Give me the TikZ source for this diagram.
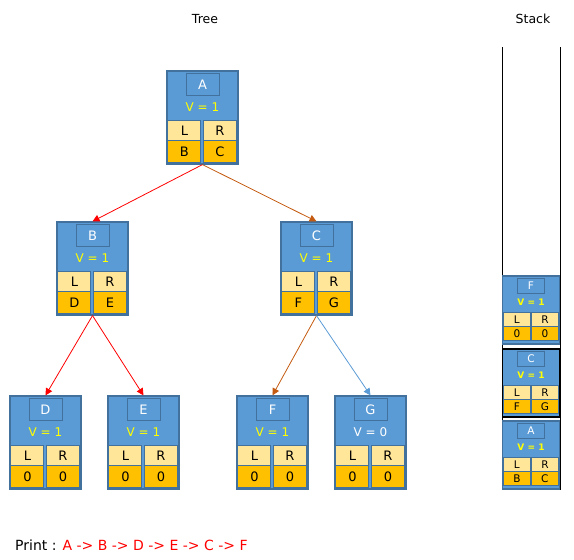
\documentclass[tikz,border=0pt]{standalone}
\usepackage{fontspec}
\setmainfont{DejaVu Sans}
\usetikzlibrary{arrows.meta}
\definecolor{boxblue}{HTML}{5B9BD5}
\definecolor{edgeblue}{HTML}{41719C}
\definecolor{cellpale}{HTML}{FFE699}
\definecolor{cellgold}{HTML}{FFC000}
\definecolor{vyellow}{HTML}{FFFF00}
\definecolor{rust}{HTML}{C55A11}

\begin{document}
\begin{tikzpicture}[x=1pt,y=-1pt,>={Triangle[length=7pt,width=7pt]},
  font=\fontsize{13}{15}\selectfont,
  blk/.style={draw=edgeblue,fill=boxblue,line width=1.2pt,inner sep=0pt,
    minimum width=71pt,minimum height=93pt},
  ttl/.style={draw=edgeblue,fill=boxblue,line width=1pt,text=white,inner sep=0pt,
    minimum width=33pt,minimum height=22pt},
  vtx/.style={inner sep=0pt,font=\fontsize{12}{14}\selectfont},
  cell/.style={draw=edgeblue,line width=1pt,inner sep=0pt,minimum width=33pt},
  palecell/.style={cell,fill=cellpale,minimum height=20pt},
  goldcell/.style={cell,fill=cellgold,minimum height=22pt},
  sblk/.style={fill=boxblue,line width=1.2pt,inner sep=0pt,
    minimum width=57pt,minimum height=68pt},
  sttl/.style={ttl,minimum width=27pt,minimum height=15pt,font=\fontsize{10.5}{12}\selectfont},
  scell/.style={cell,minimum width=27pt,minimum height=14pt,font=\fontsize{10.5}{12}\selectfont},
  edge/.style={->,line width=0.8pt}]
 \useasboundingbox (0,0) rectangle (574,560);
 \node (tree) at (205,19) {\fontsize{12.5}{14}\selectfont Tree};
 \node (stack) at (533,19) {\fontsize{12.5}{14}\selectfont Stack};
 % tree
 \foreach \n/\x/\y/\v/\c/\l/\r in {A/202.5/117.5/1/vyellow/B/C,
   B/92.5/268.5/1/vyellow/D/E, C/316.5/268.5/1/vyellow/F/G,
   D/45.5/442.5/1/vyellow/0/0, E/143.5/442.5/1/vyellow/0/0,
   F/272.5/442.5/1/vyellow/0/0, G/370.5/442.5/0/white/0/0}{
  \node[blk] (\n) at (\x,\y) {};
  \node[ttl] (\n-t) at ([yshift=-14pt]\n.north) {\n};
  \node[vtx,text=\c] (\n-v) at ([yshift=-37pt]\n.north) {V = \v};
  \node[palecell] (\n-l) at ([xshift=18pt,yshift=-60pt]\n.north west) {L};
  \node[palecell] (\n-r) at ([xshift=53.5pt,yshift=-60pt]\n.north west) {R};
  \node[goldcell] (\n-lv) at ([xshift=18pt,yshift=-81pt]\n.north west) {\l};
  \node[goldcell] (\n-rv) at ([xshift=53.5pt,yshift=-81pt]\n.north west) {\r};
 }
 \draw[edge,red] (A.south) -- (B.north);
 \draw[edge,rust] (A.south) -- (C.north);
 \draw[edge,red] (B.south) -- (D.north);
 \draw[edge,red] (B.south) -- (E.north);
 \draw[edge,rust] (C.south) -- (F.north);
 \draw[edge,boxblue] (C.south) -- (G.north);
 % stack
 \draw[line width=1pt] (502,47) -- (502,489) -- (560,489) -- (560,47);
 \foreach \n/\y/\l/\r/\k in {F/310/0/0/edgeblue, C/383/F/G/black, A/455/B/C/edgeblue}{
  \node[sblk,draw=\k] (s\n) at (531,\y) {};
  \node[sttl] (s\n-t) at ([yshift=-10.5pt]s\n.north) {\n};
  \node[vtx,text=vyellow,font=\fontsize{9}{10}\selectfont\bfseries] (s\n-v)
    at ([yshift=-27pt]s\n.north) {V = 1};
  \node[scell,fill=cellpale] (s\n-l) at ([xshift=15pt,yshift=-44pt]s\n.north west) {L};
  \node[scell,fill=cellpale] (s\n-r) at ([xshift=43pt,yshift=-44pt]s\n.north west) {R};
  \node[scell,fill=cellgold] (s\n-lv) at ([xshift=15pt,yshift=-58pt]s\n.north west) {\l};
  \node[scell,fill=cellgold] (s\n-rv) at ([xshift=43pt,yshift=-58pt]s\n.north west) {\r};
 }
 \node[anchor=west,inner sep=0pt] (print) at (15,545)
  {\fontsize{14}{16}\selectfont Print : \textcolor{red}{A -> B -> D -> E -> C -> F}};
\end{tikzpicture}
\end{document}
